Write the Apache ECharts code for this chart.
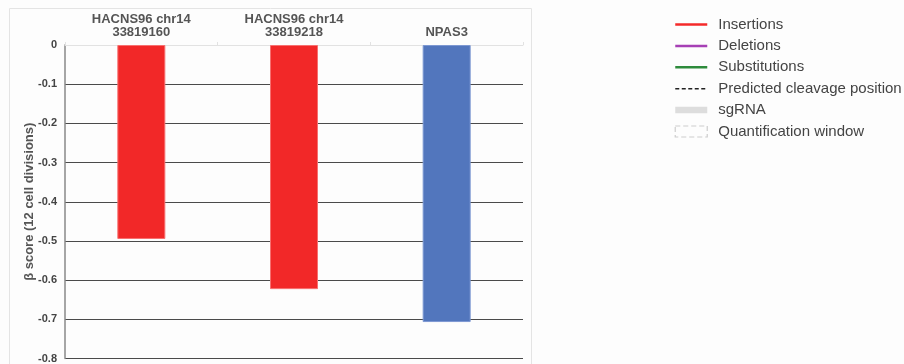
<!DOCTYPE html>
<html>
<head>
<meta charset="utf-8">
<style>
  html, body { margin: 0; padding: 0; background: #fdfdfd; }
  #chart { width: 904px; height: 364px; }
</style>
<script src="https://cdn.jsdelivr.net/npm/echarts@6/dist/echarts.min.js"></script>
</head>
<body>
<div id="chart"></div>
<script>
// Categories and beta scores
const categories = ['HACNS96 chr14\n33819160', 'HACNS96 chr14\n33819218', 'NPAS3'];
const betaScores = [-0.495, -0.623, -0.707];
const barColors = ['#f22828', '#f22828', '#5276bd'];
const barBorders = ['#f77070', '#f77070', '#7d98d2'];

// Legend entries for the editing-outcome key
const legendNames = ['Insertions', 'Deletions', 'Substitutions', 'Predicted cleavage position', 'sgRNA', 'Quantification window'];
const legendColors = ['#f42a2a', '#a640b5', '#2e8b3c', '#222222', '#dddddd', '#c0c0c0'];
const legendLineWidths = [2.5, 2.5, 2.5, 1.5, 6.5, 1.2];
const legendLineTypes = ['solid', 'solid', 'solid', [4, 2.5], 'solid', [5, 3]];

const chart = echarts.init(document.getElementById('chart'), null, { renderer: 'canvas' });

// Empty series that only feed the key
const keySeries = legendNames.map((n, i) => i === 5
  ? { name: n, type: 'scatter', data: [], symbol: 'rect',
      itemStyle: { color: 'transparent', borderColor: legendColors[i], borderWidth: legendLineWidths[i], borderType: legendLineTypes[i] } }
  : { name: n, type: 'line', data: [], symbol: 'circle',
      lineStyle: { color: legendColors[i], width: legendLineWidths[i], type: legendLineTypes[i] },
      itemStyle: { color: 'transparent', borderColor: 'transparent', borderWidth: 0 } });

const option = {
  backgroundColor: '#fdfdfd',
  animation: false,
  textStyle: { fontFamily: 'Liberation Sans, Arial, sans-serif' },
  graphic: [{
    type: 'rect',
    shape: { x: 9.5, y: 8.5, width: 522, height: 400 },
    style: { fill: 'none', stroke: '#e4e4e4', lineWidth: 1 },
    silent: true,
    z: -1
  }],
  legend: {
    left: 667,
    top: 12,
    orient: 'vertical',
    itemWidth: 32,
    itemHeight: 14,
    itemGap: 6.4,
    symbolKeepAspect: true,
    selectedMode: false,
    textStyle: { color: '#444', fontSize: 15, fontFamily: 'Liberation Sans, Arial, sans-serif', padding: [0, 0, 0, 6] },
    data: legendNames.map((n, i) => i === 5
      ? { name: n, icon: 'path://M0,0H32V11H0Z',
          itemStyle: { color: 'transparent', borderColor: legendColors[i], borderWidth: legendLineWidths[i], borderType: legendLineTypes[i] } }
      : { name: n,
          itemStyle: { color: 'transparent', borderColor: 'transparent', borderWidth: 0 },
          lineStyle: { color: legendColors[i], width: legendLineWidths[i], type: legendLineTypes[i] } })
  },
  grid: { left: 65, right: 381, top: 45, bottom: 4.5 },
  xAxis: {
    type: 'category',
    position: 'top',
    data: categories,
    axisLine: { show: true, lineStyle: { color: '#e2e2e2', width: 1 } },
    axisTick: { show: true, length: 3, lineStyle: { color: '#e2e2e2' } },
    axisLabel: {
      color: '#555',
      fontSize: 13,
      fontWeight: 'bold',
      lineHeight: 13,
      margin: 6,
      interval: 0
    },
    splitLine: { show: false }
  },
  yAxis: {
    type: 'value',
    min: -0.8,
    max: 0,
    interval: 0.1,
    name: 'β score (12 cell divisions)',
    nameLocation: 'middle',
    nameGap: 29,
    nameRotate: 90,
    nameMoveOverlap: false,
    nameTextStyle: { color: '#555', fontSize: 13, fontWeight: 'bold' },
    axisLine: { show: true, lineStyle: { color: '#888', width: 1.5 } },
    axisTick: { show: false },
    axisLabel: {
      color: '#444',
      fontSize: 11,
      fontWeight: 'bold',
      margin: 8,
      formatter: v => (Math.abs(v) < 1e-9 ? '0' : v.toFixed(1))
    },
    splitLine: { show: true, lineStyle: { color: '#4a4a4a', width: 1 } }
  },
  series: [
    {
      name: 'beta',
      type: 'bar',
      barWidth: 48,
      data: betaScores.map((v, i) => ({
        value: v,
        itemStyle: { color: barColors[i], borderColor: barBorders[i], borderWidth: 1 }
      })),
      z: 3
    },
    ...keySeries
  ]
};

chart.setOption(option);
</script>
</body>
</html>
